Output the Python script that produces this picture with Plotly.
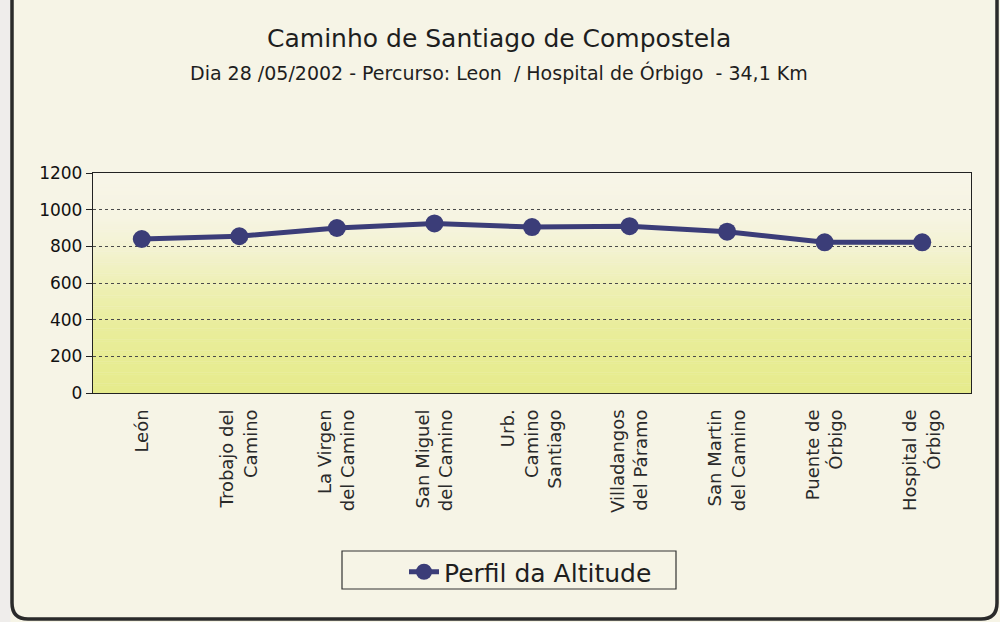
import plotly.graph_objects as go

# ---------------- data ----------------
places = ["León", "Trobajo del<br>Camino", "La Virgen<br>del Camino", "San Miguel<br>del Camino",
          "Urb.<br>Camino<br>Santiago", "Villadangos<br>del Páramo", "San Martin<br>del Camino",
          "Puente de<br>Órbigo", "Hospital de<br>Órbigo"]
altitude = [840, 855, 900, 925, 905, 910, 880, 822, 822]
y_ticks = [0, 200, 400, 600, 800, 1000, 1200]
series_name = "Perfil da Altitude"
title_text = "Caminho de Santiago de Compostela"
subtitle_text = "Dia 28 /05/2002 - Percurso: Leon  / Hospital de Órbigo  - 34,1 Km"

# ---------------- layout geometry (pixels) ----------------
W, H = 1000, 622
L, R, T, B = 93, 29, 173, 229
PW, PH = W - L - R, H - T - B
FONT = "DejaVu Sans, Verdana, sans-serif"


def px(X):
    return (X - L) / PW


def py(Y):
    return (H - B - Y) / PH


fig = go.Figure()
fig.add_trace(go.Scatter(
    x=places, y=altitude, mode="lines+markers", name=series_name,
    line=dict(color="#3b3d78", width=5),
    marker=dict(color="#3b3d78", size=18),
))

shapes = []


def lerp(c1, c2, t):
    return tuple(int(round(a + (b - a) * t)) for a, b in zip(c1, c2))


stops = [(0.0, (230, 235, 140)), (0.30, (233, 237, 155)), (0.50, (238, 240, 182)),
         (0.66, (243, 242, 210)), (0.80, (246, 244, 226)), (1.0, (247, 245, 232))]
N = 120
for i in range(N):
    f = (i + 0.5) / N
    for j in range(len(stops) - 1):
        if stops[j][0] <= f <= stops[j + 1][0]:
            t = (f - stops[j][0]) / (stops[j + 1][0] - stops[j][0])
            c = lerp(stops[j][1], stops[j + 1][1], t)
            break
    shapes.append(dict(type="rect", xref="x domain", yref="y domain",
                       x0=0, x1=1, y0=i / N, y1=(i + 1) / N + 0.002,
                       fillcolor="rgb(%d,%d,%d)" % c, line=dict(width=0), layer="below"))

# page frame (rounded bottom corners)
x0, x1 = px(12), px(997)
yt, yb = py(-5), py(619)
rx, ry = 16 / PW, 16 / PH
path = (f"M {x0},{yt} L {x0},{yb + ry} Q {x0},{yb} {x0 + rx},{yb} "
        f"L {x1 - rx},{yb} Q {x1},{yb} {x1},{yb + ry} L {x1},{yt}")
shapes.append(dict(type="path", xref="paper", yref="paper", path=path,
                   line=dict(color="#2a2a2a", width=3.5)))
shapes.append(dict(type="rect", xref="paper", yref="paper", x0=px(0), x1=px(10.5), y0=py(0), y1=py(622),
                   fillcolor="#efedeb", line=dict(width=0), layer="below"))
# legend box
shapes.append(dict(type="rect", xref="paper", yref="paper", x0=px(342), x1=px(676), y0=py(551), y1=py(589),
                   line=dict(color="#333333", width=1.2), fillcolor="rgba(0,0,0,0)"))

annotations = [
    dict(text=title_text, xref="paper", yref="paper", x=px(499), y=py(38), showarrow=False,
         font=dict(family=FONT, size=25, color="#1e1e1e"), xanchor="center", yanchor="middle"),
    dict(text=subtitle_text, xref="paper", yref="paper", x=px(499), y=py(72), showarrow=False,
         font=dict(family=FONT, size=19, color="#1e1e1e"), xanchor="center", yanchor="middle"),
]

fig.update_layout(
    width=W, height=H,
    margin=dict(l=L, r=R, t=T, b=B),
    paper_bgcolor="#f6f4e6",
    plot_bgcolor="rgba(0,0,0,0)",
    font=dict(family=FONT, color="#1e1e1e"),
    shapes=shapes,
    annotations=annotations,
    showlegend=True,
    legend=dict(orientation="h", x=px(404), y=py(549), xanchor="left", yanchor="top",
                bgcolor="rgba(0,0,0,0)", borderwidth=0,
                font=dict(family=FONT, size=25, color="#1e1e1e")),
    hovermode=False,
)
fig.update_xaxes(
    type="category", range=[-0.5, len(places) - 0.5],
    tickangle=-90, tickfont=dict(family=FONT, size=18, color="#2a2a2a"),
    showgrid=False, showline=True, linecolor="#222222", linewidth=1.2, mirror=True,
    ticks="", ticklabelstandoff=8,
)
fig.update_yaxes(
    range=[0, 1200], tickvals=y_ticks, ticktext=[str(v) for v in y_ticks],
    tickfont=dict(family=FONT, size=17, color="#111111"),
    showgrid=True, gridcolor="#4a4a4a", griddash="dot", gridwidth=1,
    showline=True, linecolor="#222222", linewidth=1.2, mirror=True,
    ticks="outside", ticklen=6, tickcolor="#222222", zeroline=False,
)

fig.write_html("out.html", config={"displayModeBar": False, "staticPlot": True})

# remove default page margin so the figure sits at the window origin
with open("out.html", "r", encoding="utf-8") as fh:
    html = fh.read()
html = html.replace("<head>", "<head><style>html,body{margin:0;padding:0;overflow:hidden;}</style>", 1)
with open("out.html", "w", encoding="utf-8") as fh:
    fh.write(html)
